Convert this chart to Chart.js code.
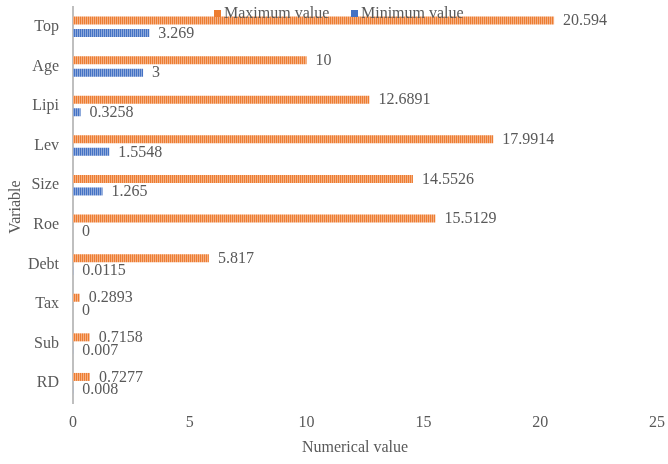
<!DOCTYPE html>
<html>
<head>
<meta charset="utf-8">
<script src="https://cdn.jsdelivr.net/npm/chart.js@4/dist/chart.umd.min.js"></script>
<style>
  html, body { margin: 0; padding: 0; background: #ffffff; }
  #wrap { width: 668px; height: 464px; }
</style>
</head>
<body>
<div id="wrap"><canvas id="c" width="668" height="464"></canvas></div>
<script>
// Variables (top to bottom) and their extreme values
const categories = ['Top', 'Age', 'Lipi', 'Lev', 'Size', 'Roe', 'Debt', 'Tax', 'Sub', 'RD'];
const maxValues = [20.594, 10, 12.6891, 17.9914, 14.5526, 15.5129, 5.817, 0.2893, 0.7158, 0.7277];
const minValues = [3.269, 3, 0.3258, 1.5548, 1.265, 0, 0.0115, 0, 0.007, 0.008];
const xTicks = [0, 5, 10, 15, 20, 25];
const seriesNames = ['Maximum value', 'Minimum value'];
const xTitle = 'Numerical value';
const yTitle = 'Variable';

const FONT = "'Liberation Serif', 'Times New Roman', serif";
const TEXT = '#595959';
const ORANGE = '#ED7D31';
const BLUE = '#4472C4';

// Fine vertical-stripe fill for the bars
function stripes(base, light) {
  const c = document.createElement('canvas');
  c.width = 2; c.height = 4;
  const g = c.getContext('2d');
  g.fillStyle = base; g.fillRect(0, 0, 2, 4);
  g.fillStyle = light; g.fillRect(1, 0, 1, 4);
  return g.createPattern(c, 'repeat');
}

// Value text at the end of each bar
const valueLabels = {
  id: 'valueLabels',
  afterDatasetsDraw(chart) {
    const ctx = chart.ctx;
    ctx.save();
    ctx.font = '16px ' + FONT;
    ctx.fillStyle = TEXT;
    ctx.textAlign = 'left';
    ctx.textBaseline = 'middle';
    chart.data.datasets.forEach((ds, di) => {
      const meta = chart.getDatasetMeta(di);
      meta.data.forEach((bar, i) => {
        ctx.fillText(String(ds.data[i]), bar.x + 9, bar.y + 0.5);
      });
    });
    ctx.restore();
  }
};

// Legend row and axis titles
const extras = {
  id: 'extras',
  afterDraw(chart) {
    const ctx = chart.ctx;
    const a = chart.chartArea;
    ctx.save();
    ctx.font = '16px ' + FONT;
    ctx.fillStyle = TEXT;
    ctx.textBaseline = 'alphabetic';
    ctx.textAlign = 'left';
    const items = [
      { x: 214, color: ORANGE, text: seriesNames[0] },
      { x: 351, color: BLUE, text: seriesNames[1] }
    ];
    items.forEach(it => {
      ctx.fillStyle = it.color;
      ctx.fillRect(it.x, 10, 7, 7);
      ctx.fillStyle = TEXT;
      ctx.fillText(it.text, it.x + 10, 18);
    });
    // x axis title
    ctx.textAlign = 'center';
    ctx.textBaseline = 'middle';
    ctx.fillText(xTitle, 355, 448);
    // y axis title
    ctx.translate(16, (a.top + a.bottom) / 2 + 2);
    ctx.rotate(-Math.PI / 2);
    ctx.fillText(yTitle, 0, 0);
    ctx.restore();
  }
};

new Chart(document.getElementById('c'), {
  type: 'bar',
  data: {
    labels: categories,
    datasets: [
      {
        label: seriesNames[0],
        data: maxValues,
        backgroundColor: stripes(ORANGE, '#F5B084'),
        categoryPercentage: 0.632,
        barPercentage: 0.64
      },
      {
        label: seriesNames[1],
        data: minValues,
        backgroundColor: stripes(BLUE, '#8EA9DB'),
        categoryPercentage: 0.632,
        barPercentage: 0.64
      }
    ]
  },
  options: {
    indexAxis: 'y',
    responsive: false,
    animation: false,
    devicePixelRatio: 1,
    layout: { padding: { top: 7, right: 11, left: 0, bottom: 0 } },
    plugins: {
      legend: { display: false },
      tooltip: { enabled: false }
    },
    scales: {
      x: {
        min: 0,
        max: 25,
        grid: { display: false, drawTicks: false },
        border: { display: false },
        afterBuildTicks(s) { s.ticks = xTicks.map(v => ({ value: v })); },
        afterFit(s) { s.height = 61; s.paddingLeft = 0; s.paddingRight = 0; },
        ticks: { font: { family: FONT, size: 16 }, color: TEXT, padding: 10, maxRotation: 0 }
      },
      y: {
        grid: { display: false, drawTicks: false },
        border: { display: true, color: '#BFBFBF', width: 2 },
        afterFit(s) { s.width = 73; s.paddingTop = 0; s.paddingBottom = 0; },
        ticks: { font: { family: FONT, size: 16 }, color: TEXT, padding: 14 }
      }
    }
  },
  plugins: [valueLabels, extras]
});
</script>
</body>
</html>
